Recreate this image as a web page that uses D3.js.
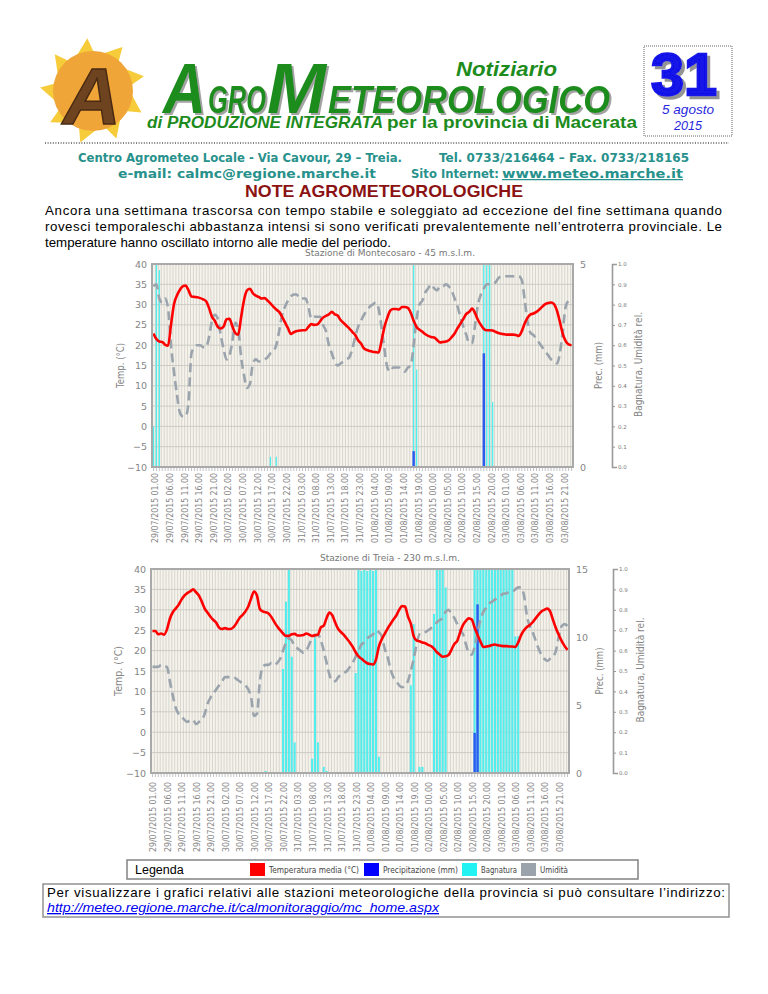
<!DOCTYPE html>
<html><head><meta charset="utf-8">
<script src="https://cdn.jsdelivr.net/npm/d3@7/dist/d3.min.js"></script>
<style>html,body{margin:0;padding:0;background:#fff}svg{display:block}</style>
</head><body>
<svg id="page" width="768" height="994"></svg>
<script>
// ================= DATA =================
const tickLabels = [
 "29/07/2015 01.00","29/07/2015 06.00","29/07/2015 11.00","29/07/2015 16.00","29/07/2015 21.00",
 "30/07/2015 02.00","30/07/2015 07.00","30/07/2015 12.00","30/07/2015 17.00","30/07/2015 22.00",
 "31/07/2015 03.00","31/07/2015 08.00","31/07/2015 13.00","31/07/2015 18.00","31/07/2015 23.00",
 "01/08/2015 04.00","01/08/2015 09.00","01/08/2015 14.00","01/08/2015 19.00",
 "02/08/2015 00.00","02/08/2015 05.00","02/08/2015 10.00","02/08/2015 15.00","02/08/2015 20.00",
 "03/08/2015 01.00","03/08/2015 06.00","03/08/2015 11.00","03/08/2015 16.00","03/08/2015 21.00"];
const tempTicks = [-10,-5,0,5,10,15,20,25,30,35,40];
const rhTicks = [0,0.1,0.2,0.3,0.4,0.5,0.6,0.7,0.8,0.9,1.0];
const precTicks1 = [0,5];
const precTicks2 = [0,5,10,15];
const stationTitles = ["Stazione di Montecosaro - 45 m.s.l.m.","Stazione di Treia - 230 m.s.l.m."];

// Montecosaro — hourly from 29/07 00.00 to 03/08 23.00
const temp1 = [
 22.9,21.5,20.9,20.8,20.1,19.9,25.0,30.0,32.2,33.6,34.5,34.7,33.5,32.0,31.9,31.8,31.6,31.3,30.8,29.2,27.0,26.0,24.5,24.1,
 24.6,26.4,26.5,24.6,23.0,22.6,27.0,31.2,33.5,33.9,32.8,32.2,31.9,31.5,31.6,31.0,30.3,29.5,28.8,28.2,27.0,25.6,24.2,22.8,
 23.2,23.5,23.6,23.7,23.7,24.5,25.2,25.0,25.1,25.9,26.8,27.2,27.6,28.2,27.6,27.3,26.2,25.5,24.8,24.1,23.3,22.5,21.2,20.4,
 19.2,18.8,18.6,18.4,18.3,18.2,21.0,24.5,26.8,28.5,28.9,28.9,28.8,29.4,29.4,29.2,28.0,26.0,24.5,23.8,23.3,22.7,22.3,22.0,
 21.9,21.3,20.7,20.8,20.9,21.2,22.0,22.9,24.2,25.3,26.5,27.7,28.2,29.0,27.9,26.2,25.0,24.0,23.7,23.7,23.6,23.3,23.0,22.8,
 22.7,22.6,22.6,22.6,22.5,22.3,23.5,25.4,26.8,27.6,27.8,28.2,28.8,29.5,30.1,30.4,30.5,30.1,28.5,25.8,22.8,21.0,20.2,20.0];
const hum1 = [
 0.89,0.90,0.83,0.81,0.83,0.78,0.60,0.47,0.36,0.27,0.25,0.25,0.32,0.56,0.59,0.60,0.60,0.59,0.59,0.64,0.72,0.75,0.73,0.65,
 0.58,0.53,0.55,0.62,0.71,0.68,0.54,0.45,0.39,0.41,0.51,0.53,0.52,0.52,0.53,0.54,0.56,0.57,0.60,0.67,0.75,0.79,0.82,0.84,
 0.85,0.85,0.83,0.83,0.83,0.79,0.73,0.74,0.74,0.74,0.70,0.67,0.60,0.56,0.52,0.50,0.51,0.52,0.53,0.54,0.58,0.64,0.69,0.72,
 0.75,0.77,0.79,0.80,0.81,0.78,0.69,0.58,0.49,0.47,0.49,0.49,0.49,0.48,0.47,0.49,0.50,0.60,0.73,0.80,0.82,0.86,0.88,0.90,
 0.88,0.87,0.89,0.89,0.90,0.89,0.87,0.83,0.79,0.74,0.69,0.65,0.61,0.61,0.70,0.80,0.85,0.88,0.90,0.90,0.90,0.91,0.93,0.94,
 0.94,0.94,0.94,0.94,0.94,0.94,0.92,0.82,0.71,0.66,0.65,0.63,0.61,0.59,0.57,0.55,0.53,0.52,0.51,0.56,0.67,0.79,0.82,0.83];
const bagn1 = [
 0.2,1,0.97,0,0,0,0,0,0,0,0,0,0,0,0,0,0,0,0,0,0,0,0,0,
 0,0,0,0,0,0,0,0,0,0,0,0,0,0,0,0,0.05,0,0.05,0,0,0,0,0,
 0,0,0,0,0,0,0,0,0,0,0,0,0,0,0,0,0,0,0,0,0,0,0,0,
 0,0,0,0,0,0,0,0,0,0,0,0,0,0,0,0,0,1,0.48,0,0,0,0,0,
 0,0,0,0,0,0,0,0,0,0,0,0,0,0,0,0,0,1,1,1,0.32,0,0,0,
 0,0,0,0,0,0,0,0,0,0,0,0,0,0,0,0,0,0,0,0,0,0,0,0];
const prec1 = [
 0,0,0,0,0,0,0,0,0,0,0,0,0,0,0,0,0,0,0,0,0,0,0,0,
 0,0,0,0,0,0,0,0,0,0,0,0,0,0,0,0,0,0,0,0,0,0,0,0,
 0,0,0,0,0,0,0,0,0,0,0,0,0,0,0,0,0,0,0,0,0,0,0,0,
 0,0,0,0,0,0,0,0,0,0,0,0,0,0,0,0,0,0.39,0,0,0,0,0,0,
 0,0,0,0,0,0,0,0,0,0,0,0,0,0,0,0,0,2.8,0,0,0,0,0,0,
 0,0,0,0,0,0,0,0,0,0,0,0,0,0,0,0,0,0,0,0,0,0,0,0];

// Treia
const temp2 = [
 24.8,24.8,24.0,24.2,23.9,25.2,27.8,29.4,30.3,31.2,32.5,33.5,34.1,34.5,35.0,34.3,33.5,32.0,30.3,29.3,28.3,27.5,26.8,25.6,
 25.3,25.5,25.3,25.3,25.8,26.8,28.0,28.7,29.6,30.8,32.8,34.5,33.5,30.2,29.6,29.4,29.1,28.2,27.0,25.9,25.0,24.2,23.6,23.6,
 24.0,24.1,23.7,23.7,23.8,24.2,23.9,23.6,23.8,23.9,25.7,26.1,28.0,29.3,28.6,26.8,25.3,24.5,23.8,22.9,22.0,20.9,19.6,18.6,
 18.0,17.4,16.9,16.7,16.6,17.8,21.0,22.8,24.1,25.4,26.5,27.6,28.6,30.0,30.9,30.8,28.4,26.6,23.5,22.5,22.3,22.0,21.8,21.4,
 21.1,20.5,19.6,19.0,18.5,18.6,18.9,20.2,21.6,22.4,24.5,26.3,27.3,27.9,27.6,25.6,23.8,22.2,20.9,21.0,21.1,21.4,21.5,21.3,
 21.2,21.1,21.1,21.0,21.0,20.9,22.0,23.8,25.0,25.8,26.3,27.0,27.9,28.8,29.6,30.0,30.3,29.6,27.5,25.5,23.8,22.3,21.1,20.2];
const hum2 = [
 0.52,0.52,0.52,0.53,0.52,0.52,0.45,0.38,0.32,0.29,0.28,0.26,0.25,0.26,0.26,0.24,0.25,0.26,0.29,0.34,0.37,0.39,0.41,0.43,
 0.45,0.47,0.47,0.47,0.47,0.46,0.45,0.44,0.43,0.41,0.37,0.28,0.29,0.45,0.52,0.53,0.53,0.54,0.53,0.54,0.56,0.60,0.64,0.66,
 0.65,0.62,0.61,0.60,0.59,0.60,0.63,0.66,0.67,0.68,0.65,0.60,0.54,0.48,0.45,0.45,0.47,0.48,0.49,0.50,0.52,0.54,0.57,0.60,
 0.63,0.64,0.66,0.67,0.68,0.70,0.69,0.67,0.61,0.57,0.51,0.47,0.45,0.43,0.42,0.43,0.45,0.50,0.56,0.63,0.68,0.68,0.69,0.70,
 0.71,0.72,0.74,0.75,0.76,0.79,0.80,0.78,0.76,0.73,0.70,0.68,0.63,0.59,0.58,0.62,0.69,0.75,0.79,0.81,0.83,0.84,0.85,0.86,
 0.87,0.88,0.88,0.89,0.89,0.90,0.91,0.91,0.87,0.77,0.72,0.69,0.65,0.61,0.58,0.56,0.55,0.56,0.57,0.60,0.67,0.72,0.73,0.72];
const bagn2 = [
 0,0,0,0,0,0,0,0,0,0,0,0,0,0,0,0,0,0,0,0,0,0,0,0,
 0,0,0,0,0,0,0,0,0,0,0,0,0,0,0,0.01,0,0,0,0,0,0.51,0.84,1,
 0.57,0.15,0,0,0,0,0,0.07,0.66,0.15,0,0.03,0.01,0,0,0,0,0,0,0,0,0,0.49,1,
 0.99,1,0.99,1,0.99,1,0.08,0,0,0,0,0,0,0,0,0,0,0.43,0.73,0,0.03,0.03,0,0,
 0,0.78,1,1,1,0.91,0,0,0,0,0,0,0,0,0,1,1,1,1,1,1,1,1,1,
 1,1,1,1,1,0.67,0.67,0,0,0,0,0,0,0,0,0,0,0,0,0,0,0,0,0];
const prec2 = [
 0,0,0,0,0,0,0,0,0,0,0,0,0,0,0,0,0,0,0,0,0,0,0,0,
 0,0,0,0,0,0,0,0,0,0,0,0,0,0,0,0,0,0,0,0,0,0,0,0,
 0,0,0,0,0,0,0,0,0,0,0,0,0,0,0,0,0,0,0,0,0,0,0,0,
 0,0,0,0,0,0,0,0,0,0,0,0,0,0,0,0,0,0,0,0,0,0,0,0,
 0,0,0,0,0,0,0,0,0,0,0,0,0,0,0,2.95,12.4,0,0,0,0,0,0,0,
 0,0,0,0,0,0,0,0,0,0,0,0,0,0,0,0,0,0,0,0,0,0,0,0];

const legendLabels = ["Temperatura media (°C)","Precipitazione (mm)","Bagnatura","Umidità"];
const legendColors = ["#ff0000","#0000ff","#22f2f2","#9aa3ab"];

// hourly categories (x domain)
const hours = d3.timeHour.range(new Date(2015,6,29,0), new Date(2015,7,4,0)).map(d3.timeFormat("%d/%m/%Y %H.00"));

// ================= DRAW =================
const svg = d3.select("#page");
const defs = svg.append("defs");
defs.append("filter").attr("id", "shadow").attr("x", "-10%").attr("y", "-10%").attr("width", "130%").attr("height", "130%")
  .append("feDropShadow").attr("dx", 2).attr("dy", 2).attr("stdDeviation", 0.4).attr("flood-color", "#999").attr("flood-opacity", 0.9);
defs.append("filter").attr("id", "shadow3").attr("x", "-10%").attr("y", "-10%").attr("width", "130%").attr("height", "130%")
  .append("feDropShadow").attr("dx", 3).attr("dy", 3).attr("stdDeviation", 0.5).attr("flood-color", "#888").attr("flood-opacity", 0.9);

function T(parent, s, x, y, o = {}) {
  const t = parent.append("text").text(s).attr("x", x).attr("y", y)
    .attr("font-family", o.ff || "Liberation Sans")
    .attr("font-size", o.fs || 12)
    .attr("fill", o.fill || "#000");
  if (o.fw) t.attr("font-weight", o.fw);
  if (o.fst) t.attr("font-style", o.fst);
  if (o.anchor) t.attr("text-anchor", o.anchor);
  if (o.len) t.attr("textLength", o.len).attr("lengthAdjust", o.adj || "spacingAndGlyphs");
  if (o.deco) t.attr("text-decoration", o.deco);
  if (o.stroke) t.attr("stroke", o.stroke).attr("stroke-width", o.sw || 1);
  if (o.filter) t.attr("filter", o.filter);
  return t;
}

// ---- Header logo ----
const logo = svg.append("g").attr("transform", "translate(93,91)");
const nR = 9;
const rays = d3.range(nR).map(k => {
  const a = k * 2 * Math.PI / nR - 1.2;
  return [[Math.cos(a - 0.30) * 35, Math.sin(a - 0.30) * 35],
          [Math.cos(a + 0.22) * 53, Math.sin(a + 0.22) * 53],
          [Math.cos(a + 0.40) * 35, Math.sin(a + 0.40) * 35]];
});
logo.selectAll("path").data(rays).join("path").attr("d", d => "M" + d.join("L") + "Z").attr("fill", "#f7cc3a");
logo.append("circle").attr("r", 40).attr("fill", "#efa537");
T(logo, "A", -1, 33, {fs: 80, fw: "bold", fst: "italic", fill: "#6e4420", anchor: "middle", stroke: "#4a2a12", sw: 1.5});

// ---- Header title (one text, several sizes) ----
const green = "#1d8c1d";
const ttl = svg.append("text").attr("y", 113).attr("font-family", "Liberation Sans").attr("font-weight", "bold")
  .attr("font-style", "italic").attr("fill", green).attr("filter", "url(#shadow)");
[["A", 163, 70, 43], ["GRO", 208, 38, 58], ["M", 267, 70, 59], ["ETEOROLOGICO", 328, 38, 282]].forEach(([s, x, fs, len]) => {
  ttl.append("tspan").attr("x", x).attr("font-size", fs).attr("textLength", len).attr("lengthAdjust", "spacingAndGlyphs").text(s);
});
T(svg, "Notiziario", 456, 76, {fs: 21, fw: "bold", fst: "italic", fill: green, len: 101});
T(svg, "di PRODUZIONE INTEGRATA", 147, 128, {fs: 16, fw: "bold", fst: "italic", fill: green, len: 236});
T(svg, "per la provincia di Macerata", 387, 128, {fs: 16, fw: "bold", fill: green, len: 250});

// issue box
svg.append("rect").attr("x", 644).attr("y", 46).attr("width", 88).attr("height", 90)
  .attr("fill", "none").attr("stroke", "#666").attr("stroke-dasharray", "1,1");
T(svg, "31", 684, 95, {fs: 60, fw: "bold", fill: "#1212e8", anchor: "middle", len: 66, stroke: "#1212e8", sw: 2.5, filter: "url(#shadow3)"});
T(svg, "5 agosto", 688, 114, {fs: 13, fst: "italic", fill: "#2828e0", anchor: "middle", len: 52});
T(svg, "2015", 688, 130, {fs: 13, fst: "italic", fill: "#2828e0", anchor: "middle", len: 28});

// dotted separator
svg.append("line").attr("x1", 45).attr("x2", 729).attr("y1", 143).attr("y2", 143)
  .attr("stroke", "#555").attr("stroke-width", 1.3).attr("stroke-dasharray", "1,1.6");

const teal = "#27918c";
T(svg, "Centro Agrometeo Locale - Via Cavour, 29 – Treia.", 78, 162, {ff: "DejaVu Sans", fs: 12.5, fw: "bold", fill: teal, len: 324});
T(svg, "Tel. 0733/216464 – Fax. 0733/218165", 439, 162, {ff: "DejaVu Sans", fs: 12.5, fw: "bold", fill: teal, len: 250});
T(svg, "e-mail: calmc@regione.marche.it", 118, 178, {ff: "DejaVu Sans", fs: 12.5, fw: "bold", fill: teal, len: 258});
T(svg, "Sito Internet: ", 411, 178, {ff: "DejaVu Sans", fs: 12.5, fw: "bold", fill: teal, len: 88});
T(svg, "www.meteo.marche.it", 502, 178, {ff: "DejaVu Sans", fs: 12.5, fw: "bold", fill: teal, len: 181, deco: "underline"});

T(svg, "NOTE AGROMETEOROLOGICHE", 384, 197, {fs: 17, fw: "bold", fill: "#8b1212", anchor: "middle", len: 278});
T(svg, "Ancora una settimana trascorsa con tempo stabile e soleggiato ad eccezione del fine settimana quando", 45, 215, {fs: 13.3, len: 677, adj: "spacing"});
T(svg, "rovesci temporaleschi abbastanza intensi si sono verificati prevalentemente nell’entroterra provinciale. Le", 45, 231, {fs: 13.3, len: 677, adj: "spacing"});
T(svg, "temperature hanno oscillato intorno alle medie del periodo.", 45, 247, {fs: 13.3});

// ---- Charts ----
function drawChart(c) {
  const g = svg.append("g");
  const x = d3.scaleBand().domain(hours).range([c.x0, c.x1]);
  const bw = x.bandwidth();
  const yT = d3.scaleLinear().domain([-10, 40]).range([c.y1, c.y0]);
  const yP = d3.scaleLinear().domain([0, c.precMax]).range([c.y1, c.y0]);
  const yH = d3.scaleLinear().domain([0, 1]).range([c.y1, c.y0]);
  const gray = "#858585";

  g.append("rect").attr("x", c.x0).attr("y", c.y0).attr("width", c.x1 - c.x0).attr("height", c.y1 - c.y0).attr("fill", "#f5f3ec");
  g.append("g").selectAll("line").data(hours).join("line")
    .attr("x1", d => x(d) + 0.5).attr("x2", d => x(d) + 0.5).attr("y1", c.y0).attr("y2", c.y1)
    .attr("stroke", "#d4d2ca").attr("stroke-width", 0.9);
  g.append("g").selectAll("line").data(tempTicks).join("line")
    .attr("x1", c.x0).attr("x2", c.x1).attr("y1", d => yT(d)).attr("y2", d => yT(d))
    .attr("stroke", "#cdcbc5").attr("stroke-width", 1);

  const bag = hours.map((h, i) => ({h, v: c.bagn[i]})).filter(d => d.v > 0);
  g.append("g").selectAll("rect").data(bag).join("rect")
    .attr("x", d => x(d.h) + bw * (1 - c.bagW) / 2).attr("width", bw * c.bagW)
    .attr("y", d => yH(d.v)).attr("height", d => c.y1 - yH(d.v)).attr("fill", "#52eeee");
  const pr = hours.map((h, i) => ({h, v: c.prec[i]})).filter(d => d.v > 0);
  g.append("g").selectAll("rect").data(pr).join("rect")
    .attr("x", d => x(d.h) + bw * 0.08).attr("width", bw * 0.84)
    .attr("y", d => yP(d.v)).attr("height", d => c.y1 - yP(d.v)).attr("fill", "#2b5cf2");

  const lineH = d3.line().x((d, i) => x(hours[i]) + bw / 2).y(d => yH(d)).curve(d3.curveMonotoneX);
  g.append("path").datum(c.hum).attr("d", lineH).attr("fill", "none")
    .attr("stroke", "#9ba4ad").attr("stroke-width", 2.6).attr("stroke-dasharray", "9,5");
  const lineT = d3.line().x((d, i) => x(hours[i]) + bw / 2).y(d => yT(d)).curve(d3.curveMonotoneX);
  g.append("path").datum(c.temp).attr("d", lineT).attr("fill", "none")
    .attr("stroke", "#ff0000").attr("stroke-width", 2.6);

  g.append("rect").attr("x", c.x0).attr("y", c.y0).attr("width", c.x1 - c.x0).attr("height", c.y1 - c.y0)
    .attr("fill", "none").attr("stroke", "#a9a9a9").attr("stroke-width", 2);

  // hourly tick marks
  const hx = g.append("g").attr("transform", `translate(0,${c.y1 + 1})`)
    .call(d3.axisBottom(x).tickValues(hours).tickFormat("").tickSize(3).tickSizeOuter(0));
  hx.select(".domain").remove();
  hx.selectAll("line").attr("stroke", "#c2c2c2");

  // x labels
  const xa = g.append("g").attr("transform", `translate(0,${c.y1})`)
    .call(d3.axisBottom(x).tickValues(tickLabels).tickSize(0).tickPadding(0));
  xa.select(".domain").remove();
  xa.selectAll("text").attr("x", 0).attr("y", 0).attr("dy", 0)
    .attr("transform", `translate(${c.lx},${c.labelGap}) rotate(-90)`)
    .attr("text-anchor", "end").attr("font-family", "DejaVu Sans").attr("font-size", 9)
    .attr("fill", gray).attr("textLength", 70).attr("lengthAdjust", "spacingAndGlyphs");

  // left temp axis
  const ay = g.append("g").attr("transform", `translate(${c.x0},0)`)
    .call(d3.axisLeft(yT).tickValues(tempTicks).tickSize(0).tickPadding(5).tickFormat(d3.format("d")));
  ay.select(".domain").remove();
  ay.selectAll("text").attr("font-family", "DejaVu Sans").attr("font-size", 9.5).attr("fill", gray);

  // prec axis
  const ap = g.append("g").attr("transform", `translate(${c.x1},0)`)
    .call(d3.axisRight(yP).tickValues(c.precTicks).tickSize(0).tickPadding(7).tickFormat(d3.format("d")));
  ap.select(".domain").remove();
  ap.selectAll("text").attr("font-family", "DejaVu Sans").attr("font-size", 9.5).attr("fill", gray);

  // bagnatura / umidità axis
  const ah = g.append("g").attr("transform", `translate(${c.xH},0)`)
    .call(d3.axisRight(yH).tickValues(rhTicks).tickSize(3).tickSizeOuter(5).tickPadding(3).tickFormat(d3.format(".1f")));
  ah.select(".domain").attr("stroke", "#9a9a9a").attr("stroke-width", 1.6);
  ah.selectAll(".tick line").attr("stroke", "#9a9a9a");
  ah.selectAll("text").attr("font-family", "DejaVu Sans").attr("font-size", 5.5).attr("fill", "#777");

  // titles
  const mid = (c.y0 + c.y1) / 2;
  T(g, c.title, c.titleX, c.titleY, {ff: "DejaVu Sans", fs: 9.5, fill: "#777", anchor: "middle", len: c.titleLen});
  T(g, "Temp. (°C)", 0, 0, {ff: "DejaVu Sans", fs: 11, fill: gray, anchor: "middle", len: c.tLen})
    .attr("transform", `translate(${c.tX},${mid}) rotate(-90)`);
  T(g, "Prec. (mm)", 0, 0, {ff: "DejaVu Sans", fs: 11, fill: gray, anchor: "middle", len: 47})
    .attr("transform", `translate(${c.pX},${mid}) rotate(-90)`);
  T(g, "Bagnatura, Umidità rel.", 0, 0, {ff: "DejaVu Sans", fs: 11, fill: gray, anchor: "middle", len: 105})
    .attr("transform", `translate(${c.bX},${mid - 1}) rotate(-90)`);
}

drawChart({x0: 152, x1: 573, y0: 264, y1: 467, xH: 612, temp: temp1, hum: hum1, bagn: bagn1, prec: prec1,
  precMax: 5, precTicks: precTicks1, bagW: 0.45, title: stationTitles[0], titleX: 390, titleY: 256, titleLen: 170,
  labelGap: 6, lx: 2, tX: 124, tLen: 45, pX: 602, bX: 642});
drawChart({x0: 151, x1: 569, y0: 569, y1: 773, xH: 613, temp: temp2, hum: hum2, bagn: bagn2, prec: prec2,
  precMax: 15, precTicks: precTicks2, bagW: 0.7, title: stationTitles[1], titleX: 390, titleY: 561, titleLen: 140,
  labelGap: 9, lx: 1, tX: 122, tLen: 50, pX: 603, bX: 644});

// ---- Legend ----
const lg = svg.append("g");
lg.append("rect").attr("x", 127).attr("y", 860).attr("width", 511).attr("height", 19)
  .attr("fill", "#fff").attr("stroke", "#8a8a8a").attr("stroke-width", 1.6);
T(lg, "Legenda", 135, 873.5, {fs: 12.5});
const legX = [250, 364, 462, 521];
const legLen = [90, 75, 36, 28];
legendLabels.forEach((s, i) => {
  lg.append("rect").attr("x", legX[i]).attr("y", 863).attr("width", 15).attr("height", 13).attr("fill", legendColors[i]);
  T(lg, s, legX[i] + 19, 873, {ff: "DejaVu Sans", fs: 8, fill: "#444", len: legLen[i]});
});

// ---- Footer box ----
svg.append("rect").attr("x", 43).attr("y", 884).attr("width", 686).attr("height", 33)
  .attr("fill", "none").attr("stroke", "#8a8a8a").attr("stroke-width", 1.4);
T(svg, "Per visualizzare i grafici relativi alle stazioni meteorologiche della provincia si può consultare l’indirizzo:", 47, 897, {fs: 13.3, len: 678, adj: "spacing"});
T(svg, "http://meteo.regione.marche.it/calmonitoraggio/mc_home.aspx", 47, 912, {fs: 13.3, fst: "italic", fill: "#0000ee", deco: "underline", len: 392});
</script>
</body></html>
